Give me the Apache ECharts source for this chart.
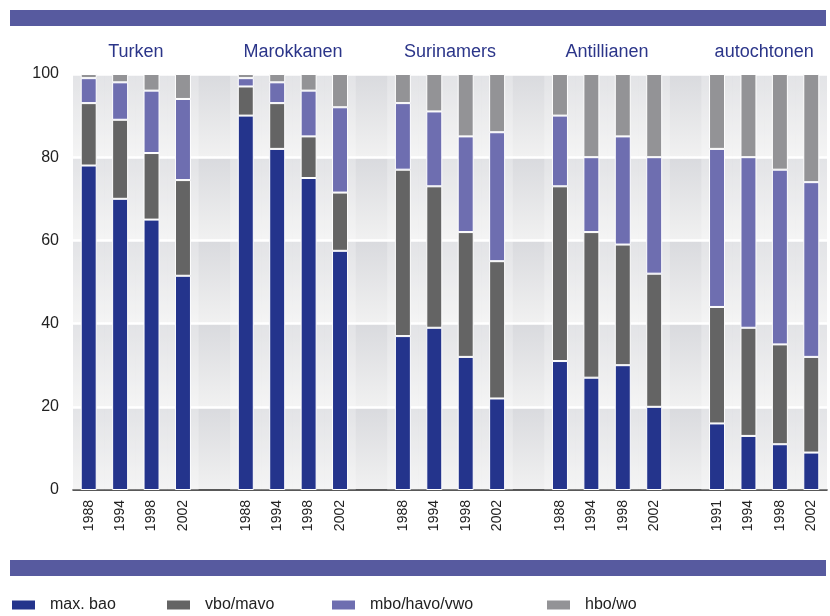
<!DOCTYPE html>
<html>
<head>
<meta charset="utf-8">
<script src="https://cdn.jsdelivr.net/npm/echarts@6/dist/echarts.min.js"></script>
<style>
  html, body { margin: 0; padding: 0; background: #fff; }
  #chart { width: 830px; height: 616px; }
</style>
</head>
<body>
<div id="chart"></div>
<script>
var chartDom = document.getElementById('chart');

// groups and years (empty string = spacer slot between groups)
var groups = ['Turken', 'Marokkanen', 'Surinamers', 'Antillianen', 'autochtonen'];
var years = ['1988', '1994', '1998', '2002', '',
             '1988', '1994', '1998', '2002', '',
             '1988', '1994', '1998', '2002', '',
             '1988', '1994', '1998', '2002', '',
             '1991', '1994', '1998', '2002'];

var maxBao     = [78, 70, 65, 51.5, '-', 90, 82, 75, 57.5, '-', 37, 39, 32, 22, '-', 31, 27, 30, 20, '-', 16, 13, 11, 9];
var vboMavo    = [15, 19, 16, 23, '-', 7, 11, 10, 14, '-', 40, 34, 30, 33, '-', 42, 35, 29, 32, '-', 28, 26, 24, 23];
var mboHavoVwo = [6, 9, 15, 19.5, '-', 2, 5, 11, 20.5, '-', 16, 18, 23, 31, '-', 17, 18, 26, 28, '-', 38, 41, 42, 42];
var hboWo      = [1, 2, 4, 6, '-', 1, 2, 4, 8, '-', 7, 9, 15, 14, '-', 10, 20, 15, 20, '-', 18, 20, 23, 26];

var yTicks = [0, 20, 40, 60, 80, 100];

var narrow = '"Liberation Sans Narrow", "Liberation Sans", Arial, sans-serif';
var colors = ['#24348c', '#646464', '#6e6eb0', '#939396'];
var names = ['max. bao', 'vbo/mavo', 'mbo/havo/vwo', 'hbo/wo'];
var values = [maxBao, vboMavo, mboHavoVwo, hboWo];

// light column behind each group
var groupBg = years.map(function (y) { return y === '' ? '-' : 100; });

function createChart() {
    var myChart = echarts.init(chartDom);
    var option;

    var bandGrad = {
        type: 'linear', x: 0, y: 0, x2: 0, y2: 1,
        colorStops: [{ offset: 0, color: '#d9dade' }, { offset: 1, color: '#f1f1f1' }]
    };

    var series = [{
        name: 'bg',
        type: 'bar',
        xAxisIndex: 1,
        data: groupBg,
        barWidth: '100%',
        silent: true,
        itemStyle: { color: 'rgba(255,255,255,0.25)' },
        z: 1
    }];
    values.forEach(function (v, i) {
        series.push({
            name: names[i],
            type: 'bar',
            stack: 'total',
            barWidth: 16,
            data: v,
            itemStyle: { color: colors[i], borderColor: '#fff', borderWidth: 1 },
            z: 3
        });
    });

    var legends = [10, 165, 330, 545].map(function (x, i) {
        return {
            data: [names[i]],
            left: x,
            top: 597,
            itemWidth: 25,
            itemHeight: 11,
            icon: 'rect',
            padding: 0,
            textStyle: { fontFamily: narrow, fontSize: 16, color: '#222', padding: [0, 0, 0, 9] }
        };
    });

    option = {
        animation: false,
        backgroundColor: '#fff',
        grid: { left: 73, right: 3, top: 74, bottom: 126 },
        legend: legends,
        xAxis: [{
            type: 'category',
            data: years,
            axisLine: { lineStyle: { color: '#222', width: 1.5 } },
            axisTick: {
                alignWithLabel: true,
                length: 6,
                interval: function (idx, val) { return val !== ''; },
                lineStyle: { color: '#222' }
            },
            axisLabel: {
                rotate: 90, interval: 0, margin: 10,
                fontFamily: '"Liberation Sans", Arial, sans-serif', fontSize: 14, color: '#222'
            },
            splitLine: { show: false }
        }, {
            type: 'category',
            data: years,
            show: false
        }],
        yAxis: {
            type: 'value',
            min: yTicks[0],
            max: yTicks[yTicks.length - 1],
            interval: 20,
            axisLine: { show: false },
            axisTick: { show: false },
            axisLabel: { fontFamily: narrow, fontSize: 16, color: '#222', margin: 14 },
            splitLine: { show: true, lineStyle: { color: '#fff', width: 2.5 } },
            splitArea: { show: true, areaStyle: { color: [bandGrad, bandGrad] } }
        },
        series: series
    };

    myChart.setOption(option);

    // header / footer bars and group titles
    var graphics = [
        { type: 'rect', shape: { x: 10, y: 10, width: 816, height: 16 }, style: { fill: '#575a9f' } },
        { type: 'rect', shape: { x: 10, y: 560, width: 816, height: 16 }, style: { fill: '#575a9f' } }
    ];
    groups.forEach(function (g, i) {
        var a = myChart.convertToPixel({ xAxisIndex: 0 }, i * 5);
        var b = myChart.convertToPixel({ xAxisIndex: 0 }, i * 5 + 3);
        graphics.push({
            type: 'text',
            x: (a + b) / 2,
            y: 52,
            style: {
                text: g, fill: '#2b3589', fontFamily: narrow, fontSize: 18,
                textAlign: 'center', textVerticalAlign: 'middle'
            }
        });
    });
    myChart.setOption({ graphic: graphics });
}

createChart();
</script>
</body>
</html>
